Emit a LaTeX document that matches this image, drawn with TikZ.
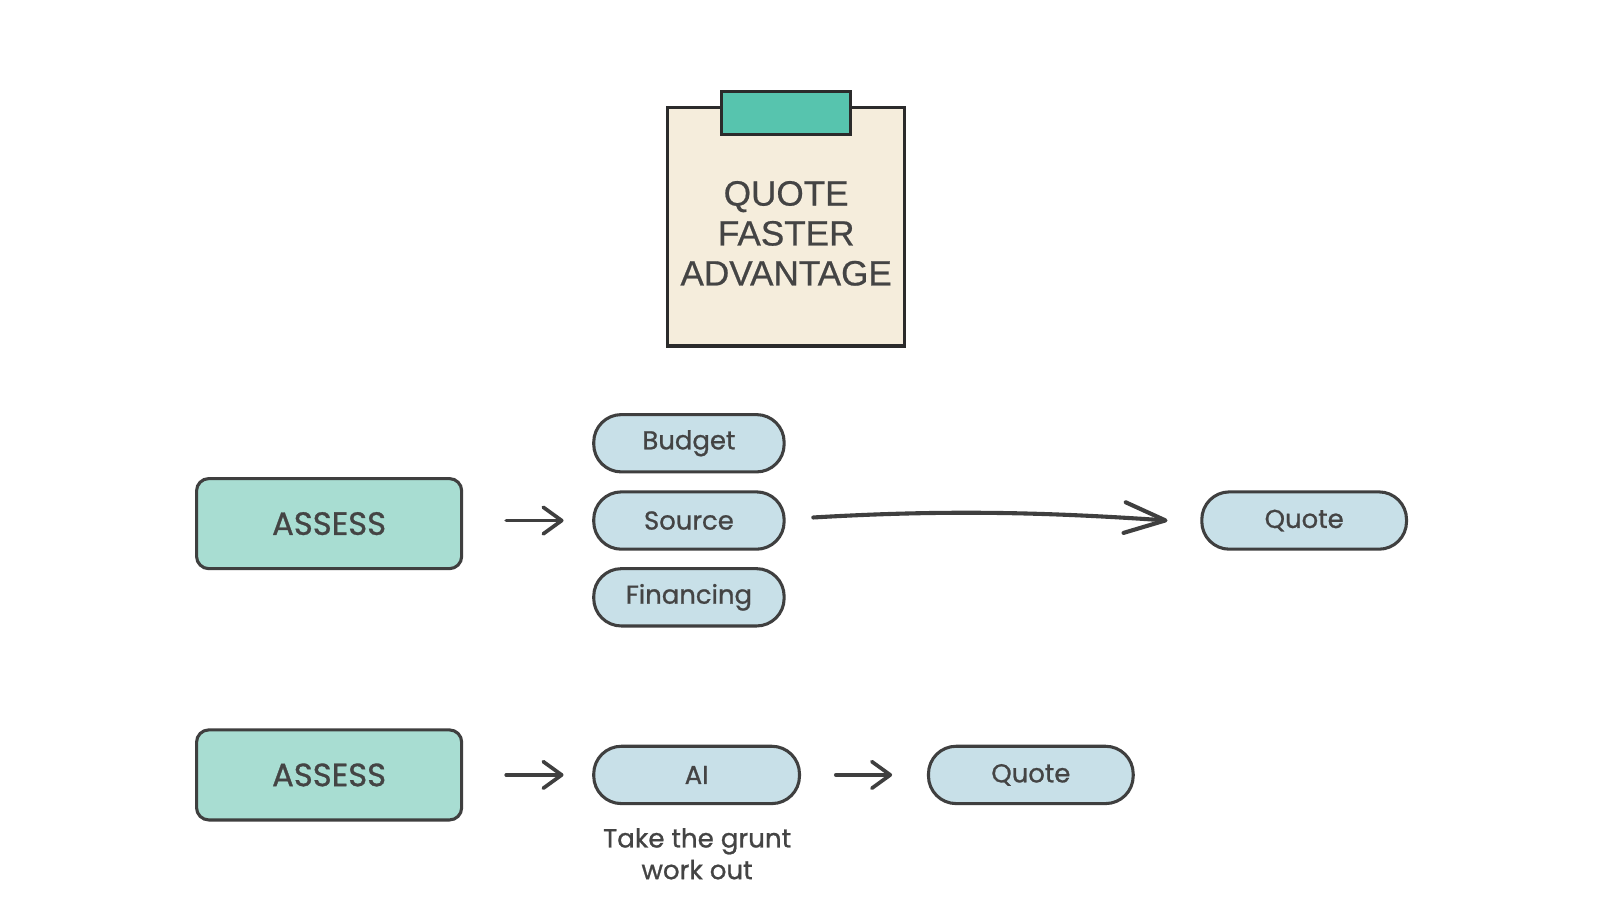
\documentclass[tikz,border=0pt]{standalone}
\usepackage{fontspec}
\setmainfont{Poppins}[FakeBold=0.9]
\newfontfamily\titlefont{Liberation Sans}[FakeBold=0.6]
\usetikzlibrary{arrows.meta}
\definecolor{ink}{HTML}{3F3F3F}
\definecolor{ink2}{HTML}{2B2B2B}
\definecolor{txt}{HTML}{444444}
\definecolor{paper}{HTML}{F5EDDC}
\definecolor{clipc}{HTML}{57C4AE}
\definecolor{boxc}{HTML}{A8DDD2}
\definecolor{pillc}{HTML}{C8E0E8}
\tikzset{
  box/.style={draw=ink, line width=3pt, fill=boxc, rounded corners=12pt, minimum width=259pt, minimum height=88pt, inner sep=0pt, text=txt, font=\fontsize{31.5}{36}\selectfont},
  pill/.style={draw=ink, line width=3pt, fill=pillc, rounded corners=27pt, minimum width=186pt, minimum height=56pt, inner sep=0pt, text=txt, font=\fontsize{25.3}{30}\selectfont},
  arr/.style={draw=ink, line width=3.6pt, line cap=round, -{Straight Barb[length=18pt,width=26pt,line cap=round,line join=round]}},
  bigarr/.style={draw=ink, line width=4pt, line cap=round, -{Straight Barb[length=40pt,width=30pt,line cap=round,line join=round]}}
}
\begin{document}
\begin{tikzpicture}[x=1pt,y=-1pt]
\useasboundingbox[fill=white] (0,0) rectangle (1563,879);
% clipboard
\node[draw=ink2, line width=3pt, fill=paper, minimum width=232pt, minimum height=233pt, inner sep=0pt] (paper) at (768,221.5) {};
\node[draw=ink2, line width=3pt, fill=clipc, minimum width=126pt, minimum height=42pt, inner sep=0pt] (clip) at (768,110) {};
\node[text=txt, align=center, font=\titlefont\fontsize{34.3}{39}\selectfont] (title) at (768,228) {QUOTE\\FASTER\\ADVANTAGE};
% row 1
\node[box] (a1) at (321.5,511.5) {ASSESS};
\node[pill] (budget) at (673,433) {Budget};
\node[pill] (source) at (673,508.5) {Source};
\node[pill] (fin) at (673,583.5) {Financing};
\node[pill, minimum width=200pt] (q1) at (1274,508.5) {Quote};
% row 2
\node[box] (a2) at (321.5,757) {ASSESS};
\node[pill, minimum width=201pt] (ai) at (680.5,757) {AI};
\node[pill, minimum width=200pt] (q2) at (1007,757) {Quote};
\node[text=txt, align=center, font=\fontsize{25.5}{31}\selectfont] (grunt) at (681,834) {Take the grunt\\work out};
% arrows
\draw[arr] ([xshift=42pt,yshift=3pt]a1.east) -- ([xshift=-28pt]source.west);
\draw[bigarr] ([xshift=27pt,yshift=3pt]source.east) .. controls +(120,-7) and +(-130,-9) .. ([xshift=-32pt]q1.west);
\draw[arr] ([xshift=42pt]a2.east) -- ([xshift=-28pt]ai.west);
\draw[arr] ([xshift=34pt]ai.east) -- ([xshift=-34pt]q2.west);
\end{tikzpicture}
\end{document}
